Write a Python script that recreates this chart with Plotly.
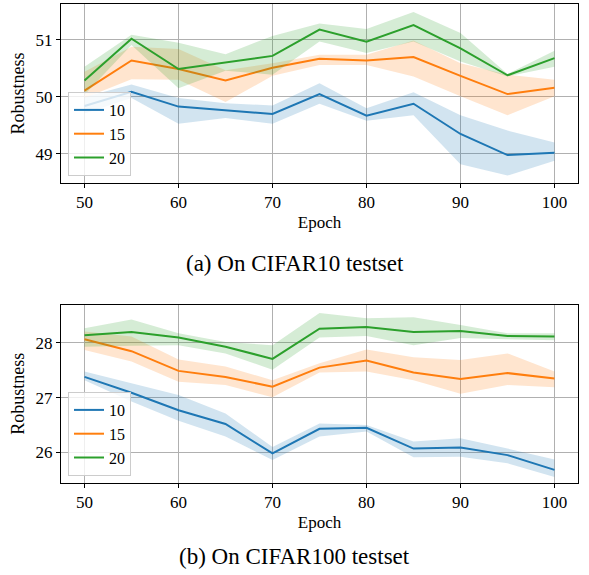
import plotly.graph_objects as go

epochs = [50, 55, 60, 65, 70, 75, 80, 85, 90, 95, 100]
series_names = ["10", "15", "20"]
colors = ["#1f77b4", "#ff7f0e", "#2ca02c"]
band_colors = ["rgba(31,119,180,0.2)", "rgba(255,127,14,0.2)", "rgba(44,160,44,0.2)"]

# (a) CIFAR10
c10_mean = [
    [49.84, 50.09, 49.83, 49.76, 49.70, 50.05, 49.67, 49.88, 49.35, 48.98, 49.02],
    [50.11, 50.64, 50.49, 50.29, 50.51, 50.67, 50.64, 50.70, 50.37, 50.05, 50.16],
    [50.29, 51.02, 50.49, 50.60, 50.72, 51.18, 50.97, 51.26, 50.85, 50.38, 50.68],
]
c10_upper = [
    [50.00, 50.22, 49.98, 49.89, 49.85, 50.24, 49.80, 50.08, 49.68, 49.41, 49.20],
    [50.44, 50.88, 50.84, 50.47, 50.59, 50.74, 50.74, 50.99, 50.59, 50.39, 50.30],
    [50.53, 51.09, 50.95, 50.75, 51.07, 51.29, 51.19, 51.49, 51.12, 50.40, 50.81],
]
c10_lower = [
    [49.71, 49.98, 49.53, 49.63, 49.53, 49.88, 49.58, 49.68, 48.82, 48.62, 48.88],
    [49.98, 50.31, 50.30, 49.91, 50.37, 50.56, 50.56, 50.36, 50.01, 49.68, 50.01],
    [50.04, 50.91, 50.15, 50.46, 50.39, 50.97, 50.77, 50.97, 50.62, 50.36, 50.53],
]

# (b) CIFAR100
c100_mean = [
    [27.38, 27.09, 26.77, 26.52, 25.98, 26.43, 26.45, 26.07, 26.09, 25.95, 25.68],
    [28.07, 27.85, 27.49, 27.38, 27.20, 27.55, 27.68, 27.46, 27.34, 27.45, 27.35],
    [28.14, 28.20, 28.10, 27.93, 27.71, 28.26, 28.29, 28.20, 28.22, 28.13, 28.12],
]
c100_upper = [
    [27.48, 27.27, 27.05, 26.71, 26.10, 26.53, 26.50, 26.20, 26.26, 26.07, 25.87],
    [28.21, 28.12, 27.70, 27.57, 27.32, 27.63, 27.88, 27.74, 27.69, 27.81, 27.48],
    [28.27, 28.43, 28.18, 28.02, 27.96, 28.55, 28.45, 28.47, 28.33, 28.18, 28.18],
]
c100_lower = [
    [27.32, 26.93, 26.58, 26.29, 25.86, 26.29, 26.38, 25.91, 25.92, 25.80, 25.55],
    [27.87, 27.66, 27.29, 27.23, 27.01, 27.46, 27.48, 27.32, 27.07, 27.23, 27.19],
    [27.93, 27.95, 27.96, 27.81, 27.51, 28.10, 28.13, 27.96, 28.09, 28.07, 28.05],
]

x_ticks = [50, 60, 70, 80, 90, 100]
y_ticks_a = [49, 50, 51]
y_ticks_b = [26, 27, 28]
captions = ["(a) On CIFAR10 testset", "(b) On CIFAR100 testset"]

FONT = "Liberation Serif"
W, H = 589, 575

fig = go.Figure()

panels = [
    (c10_mean, c10_upper, c10_lower, "x", "y", "legend"),
    (c100_mean, c100_upper, c100_lower, "x2", "y2", "legend2"),
]
for mean, up, lo, xa, ya, lg in panels:
    for i in range(3):
        fig.add_trace(go.Scatter(
            x=epochs, y=mean[i], mode="lines", name=series_names[i],
            line=dict(color=colors[i], width=2), xaxis=xa, yaxis=ya, legend=lg,
        ))
        fig.add_trace(go.Scatter(
            x=epochs + epochs[::-1], y=up[i] + lo[i][::-1], mode="lines",
            fill="toself", fillcolor=band_colors[i], line=dict(width=0),
            showlegend=False, hoverinfo="skip", xaxis=xa, yaxis=ya,
        ))

xdom = [61 / W, 578 / W]
ydom_a = [1 - 183 / H, 1 - 4 / H]
ydom_b = [1 - 483 / H, 1 - 304.7 / H]

common_x = dict(
    range=[47.5, 102.5], tickvals=x_ticks, showgrid=True, gridcolor="#b0b0b0",
    gridwidth=1, showline=True, linecolor="black", linewidth=1, mirror=True,
    ticks="outside", ticklen=4, tickcolor="black", zeroline=False, automargin=False,
    tickfont=dict(family=FONT, size=17, color="black"),
    title=dict(text="Epoch", font=dict(family=FONT, size=17, color="black"), standoff=4),
)
common_y = dict(
    showgrid=True, gridcolor="#b0b0b0", gridwidth=1, showline=True,
    linecolor="black", linewidth=1, mirror=True, ticks="outside", ticklen=4,
    tickcolor="black", zeroline=False, automargin=False,
    tickfont=dict(family=FONT, size=17, color="black"),
    title=dict(text="Robustness", font=dict(family=FONT, size=18, color="black"), standoff=6),
)

legend_common = dict(
    bgcolor="rgba(255,255,255,0.8)", bordercolor="#cccccc", borderwidth=1,
    font=dict(family=FONT, size=16, color="black"), itemwidth=30,
    xanchor="left", yanchor="bottom", tracegroupgap=0,
)

fig.update_layout(
    width=W, height=H, margin=dict(l=0, r=0, t=0, b=0, autoexpand=False),
    plot_bgcolor="white", paper_bgcolor="white",
    xaxis=dict(domain=xdom, anchor="y", **common_x),
    yaxis=dict(domain=ydom_a, anchor="x", range=[48.49, 51.63], tickvals=y_ticks_a, **common_y),
    xaxis2=dict(domain=xdom, anchor="y2", **common_x),
    yaxis2=dict(domain=ydom_b, anchor="x2", range=[25.44, 28.70], tickvals=y_ticks_b, **common_y),
    legend=dict(x=68 / W, y=1 - 176 / H, **legend_common),
    legend2=dict(x=68 / W, y=1 - 476 / H, **legend_common),
    showlegend=True,
    annotations=[
        dict(text=captions[0], x=0.5, y=1 - 263 / H, xref="paper", yref="paper",
             showarrow=False, font=dict(family=FONT, size=23, color="black"),
             xanchor="center", yanchor="middle"),
        dict(text=captions[1], x=0.5, y=1 - 556 / H, xref="paper", yref="paper",
             showarrow=False, font=dict(family=FONT, size=23, color="black"),
             xanchor="center", yanchor="middle"),
    ],
)

fig.write_html(
    "out.html",
    config={"displayModeBar": False},
    post_script="document.body.style.margin='0';document.body.style.overflow='hidden';",
)
